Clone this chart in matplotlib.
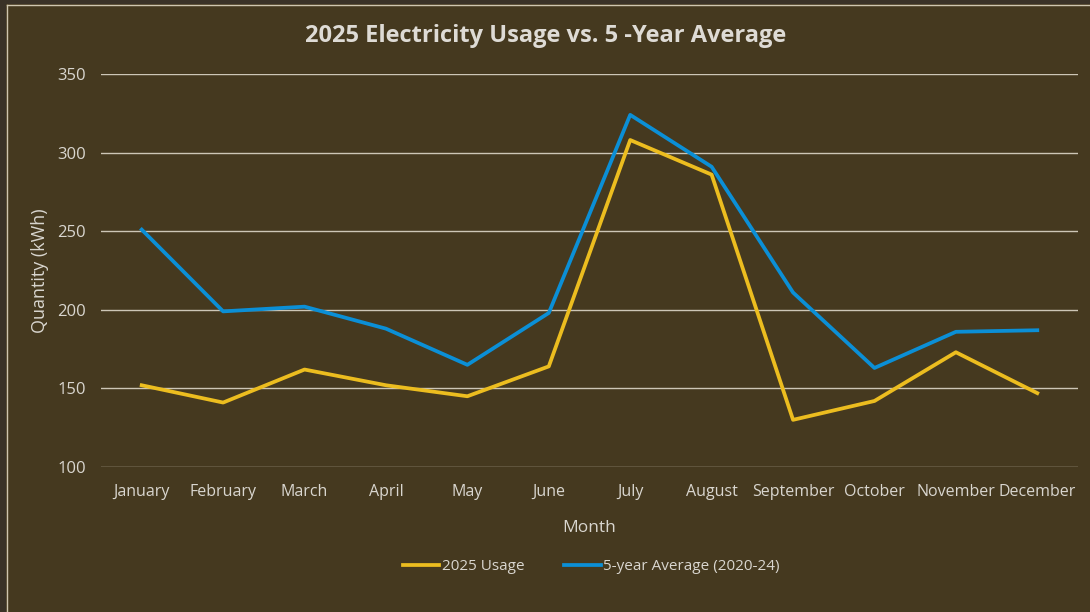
import matplotlib.pyplot as plt
from matplotlib.patches import Rectangle
from matplotlib.lines import Line2D

# data
months = ['January', 'February', 'March', 'April', 'May', 'June',
          'July', 'August', 'September', 'October', 'November', 'December']
usage_2025 = [152, 141, 162, 152, 145, 164, 308, 286, 130, 142, 173, 147]
avg_5yr = [251, 199, 202, 188, 165, 198, 324, 291, 211, 163, 186, 187]
yticks = [100, 150, 200, 250, 300, 350]

bg = '#45391f'
txt = '#d9d6cf'
yellow = '#ecbd1f'
blue = '#0b8fd6'

plt.rcParams['font.family'] = ['Open Sans', 'DejaVu Sans']

fig = plt.figure(figsize=(10.9, 6.12), dpi=100)
fig.patch.set_facecolor(bg)

# frame on the left and top edge (screenshot border)
W, H = 1090, 612
fig.patches.append(Rectangle((0, 0), 6 / W, 1, transform=fig.transFigure,
                             facecolor='#3a3227', edgecolor='none', zorder=0))
fig.patches.append(Rectangle((0, 1 - 4 / H), 1, 4 / H, transform=fig.transFigure,
                             facecolor='#3a3227', edgecolor='none', zorder=0))
fig.add_artist(Line2D([6.5 / W, 6.5 / W], [0, 1 - 4.5 / H], transform=fig.transFigure,
                      color='#cfc6b0', lw=1))
fig.add_artist(Line2D([6.5 / W, 1], [1 - 5 / H, 1 - 5 / H], transform=fig.transFigure,
                      color='#cfc6b0', lw=1))

ax = fig.add_axes([101 / W, 1 - 467 / H, 977 / W, 393 / H])
ax.set_facecolor(bg)

x = list(range(len(months)))
ax.plot(x, usage_2025, color=yellow, lw=2.7, label='2025 Usage', zorder=3)
ax.plot(x, avg_5yr, color=blue, lw=2.7, label='5-year Average (2020-24)', zorder=3)

ax.set_xlim(-0.5, len(months) - 0.5)
ax.set_ylim(100, 350)
ax.set_yticks(yticks)
ax.set_xticks(x)
ax.set_xticklabels(months)
ax.grid(axis='y', color='#cdc6b6', lw=1.0)
ax.set_axisbelow(True)
for s in ax.spines.values():
    s.set_visible(False)
ax.tick_params(axis='both', length=0, colors=txt)
ax.tick_params(axis='x', pad=12, labelsize=11.5)
ax.tick_params(axis='y', pad=11, labelsize=12)

ax.set_xlabel('Month', color=txt, fontsize=12.5, labelpad=15)
ax.set_ylabel('Quantity (kWh)', color=txt, fontsize=13, labelpad=6)

fig.text(546 / W, 1 - 36 / H, '2025 Electricity Usage vs. 5 -Year Average',
         ha='center', va='center', color='#dedbd5', fontsize=17, fontweight='bold')

leg = fig.legend(loc='center', bbox_to_anchor=(591 / W, 1 - 567 / H), ncol=2,
                 frameon=False, fontsize=11, labelcolor=txt, handlelength=2.4,
                 handletextpad=0.15, columnspacing=2.6)

fig.savefig('out.png', dpi=100, facecolor=fig.get_facecolor())
